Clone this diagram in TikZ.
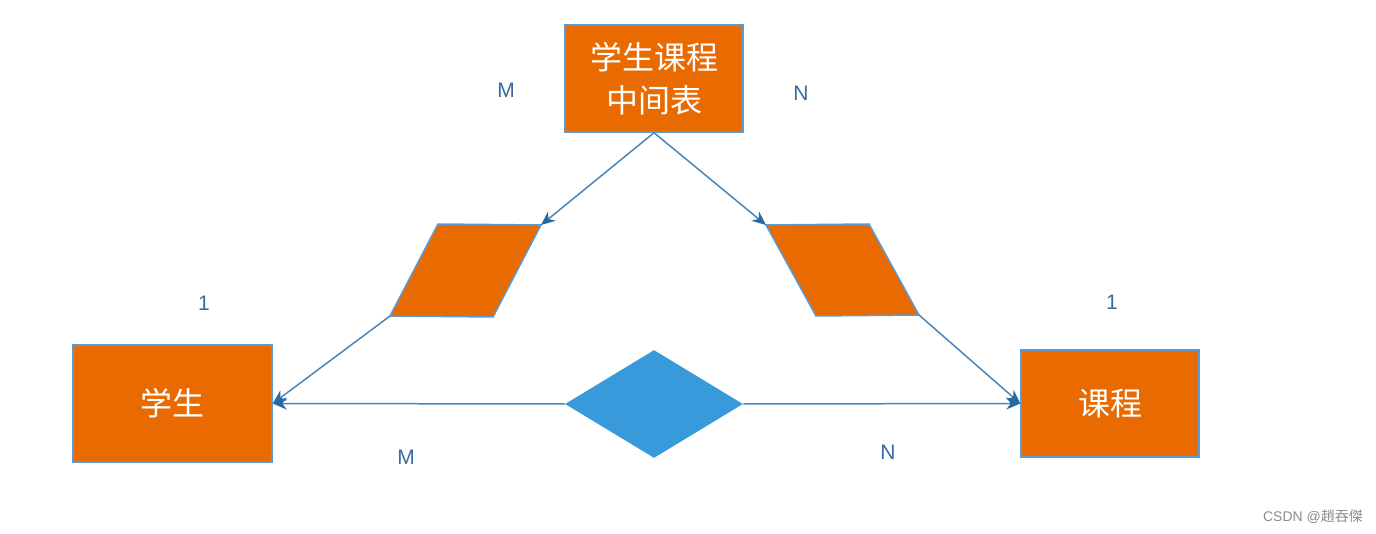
\documentclass[tikz,border=0pt]{standalone}
\usepackage{fontspec}
\setmainfont{Liberation Sans}
\newfontfamily\cjk{Noto Sans CJK SC}
\usetikzlibrary{arrows.meta,shapes.geometric}
\definecolor{boxorange}{RGB}{233,106,0}
\definecolor{edgeblue}{RGB}{91,155,213}
\definecolor{linkblue}{RGB}{74,134,184}
\definecolor{tipblue}{RGB}{40,105,160}
\definecolor{diablue}{RGB}{56,154,219}
\definecolor{tagblue}{RGB}{60,105,160}
\tikzset{
  entity/.style={draw=edgeblue,fill=boxorange,line width=0.75pt,inner sep=0pt,
    text=white,font=\cjk\fontsize{16}{21.5}\selectfont,align=center},
  link/.style={draw=linkblue,line width=0.75pt,-{Stealth[length=7pt,width=6pt,color=tipblue]}},
  tag/.style={text=tagblue,font=\fontsize{10.5}{12}\selectfont}
}
\begin{document}
\begin{tikzpicture}[x=0.5pt,y=-0.5pt]
\useasboundingbox (0,0) rectangle (1376,534);
% entities
\node[entity,minimum width=89pt,minimum height=53.5pt] (mid) at (654,78.5) {学生课程\\中间表};
\node[entity,minimum width=99.5pt,minimum height=58.5pt] (stu) at (172.5,403.5) {学生};
\node[entity,minimum width=89pt,minimum height=53.5pt] (crs) at (1110,403.5) {课程};
\node[diamond,fill=diablue,inner sep=0pt,minimum width=89pt,minimum height=54pt] (rel) at (654,404) {};
% parallelograms
\coordinate (ltl) at (438,224); \coordinate (ltr) at (541,225);
\coordinate (lbr) at (493,317); \coordinate (lbl) at (390,316);
\coordinate (rtl) at (766,225); \coordinate (rtr) at (869,224);
\coordinate (rbr) at (919,315); \coordinate (rbl) at (816,316);
\filldraw[fill=boxorange,draw=edgeblue,line width=0.75pt] (ltl)--(ltr)--(lbr)--(lbl)--cycle;
\filldraw[fill=boxorange,draw=edgeblue,line width=0.75pt] (rtl)--(rtr)--(rbr)--(rbl)--cycle;
% links
\draw[link] (mid.south) -- (ltr);
\draw[link] (mid.south) -- (rtl);
\draw[link] (lbl) -- (stu.east);
\draw[link] (rbr) -- (crs.west);
\draw[link] (rel.west) -- (stu.east);
\draw[link] (rel.east) -- (crs.west);
% multiplicities
\node[tag] (m1) at (506,90) {M};
\node[tag] (n1) at (801,93) {N};
\node[tag] (o1) at (204,303) {1};
\node[tag] (o2) at (1112,302) {1};
\node[tag] (m2) at (406,457) {M};
\node[tag] (n2) at (888,452) {N};
\node[text=black!45,font=\fontsize{7}{8}\selectfont] (mark) at (1313,517) {CSDN @{\cjk 趙吞傑}};
\end{tikzpicture}
\end{document}
